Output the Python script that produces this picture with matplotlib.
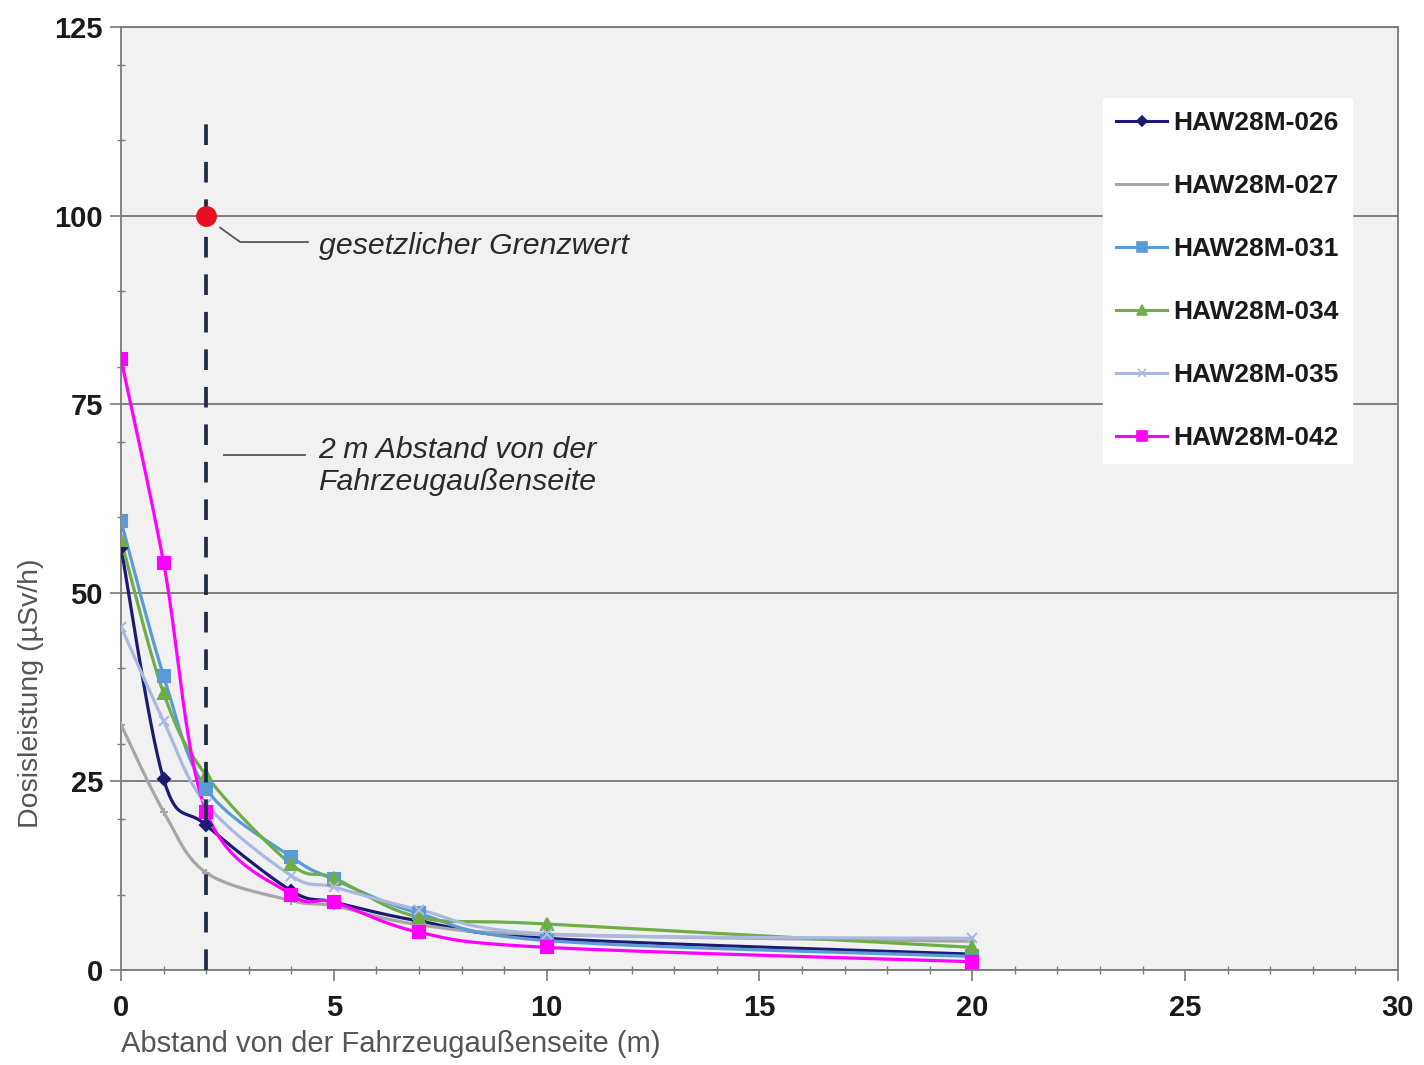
import numpy as np
import matplotlib.pyplot as plt
from matplotlib.ticker import MultipleLocator

# Messpunkte (Abstand in m)
abstand = [0, 1, 2, 4, 5, 7, 10, 20]
namen = ["HAW28M-026", "HAW28M-027", "HAW28M-031", "HAW28M-034", "HAW28M-035", "HAW28M-042"]
d026 = [56, 25.3, 19.2, 10.5, 9.0, 6.5, 4.2, 2.1]
d027 = [32.5, 21, 12.9, 9.2, 8.5, 6.0, 4.7, 3.8]
d031 = [59.5, 39, 24, 15, 12, 7.5, 3.9, 1.8]
d034 = [57, 36.7, 25.8, 14, 12.2, 7.0, 6.1, 3.0]
d035 = [45.5, 33, 22, 12.5, 11, 8.0, 4.8, 4.2]
d042 = [81, 54, 21, 10, 9.0, 5.0, 3.0, 1.1]
grenzwert = 100
abstand_grenze = 2

farben = ["#1c1a73", "#a6a6a6", "#5b9bd5", "#6fad47", "#aab8e2", "#ff00ff"]
marker = ["D", "+", "s", "^", "x", "s"]
msize = [6, 6, 9, 9, 7, 9]


def glatt(x, y, sx=1277 / 30, sy=943 / 125, n=30):
    # Excel-artige Glaettung (Bezier mit 1/6 der Nachbardifferenz)
    p = np.column_stack([np.array(x) * sx, np.array(y) * sy])
    pp = np.vstack([p[0], p, p[-1]])
    t = np.linspace(0, 1, n)[:, None]
    out = []
    for i in range(len(p) - 1):
        p0, p3 = pp[i + 1], pp[i + 2]
        p1 = p0 + (pp[i + 2] - pp[i]) / 6
        p2 = p3 - (pp[i + 3] - pp[i + 1]) / 6
        seg = (1 - t) ** 3 * p0 + 3 * (1 - t) ** 2 * t * p1 + 3 * (1 - t) * t ** 2 * p2 + t ** 3 * p3
        out.append(seg)
    out = np.vstack(out)
    return out[:, 0] / sx, out[:, 1] / sy


plt.rcParams['font.family'] = ['Liberation Sans', 'DejaVu Sans']

fig = plt.figure(figsize=(14.24, 10.65), dpi=100)
ax = fig.add_axes([0.085, 0.0892, 0.8967, 0.8854])
ax.set_facecolor("#f1f1f1")

for d, name, c, m, ms in zip([d026, d027, d031, d034, d035, d042], namen, farben, marker, msize):
    gx, gy = glatt(abstand, d)
    ax.plot(gx, gy, color=c, lw=2.3, zorder=3)
    ax.plot(abstand, d, ls="none", marker=m, ms=ms, color=c, mew=1.5, zorder=4)
    ax.plot([], [], color=c, lw=2.2, marker=m if name != "HAW28M-027" else None,
            ms=ms * 0.8, mew=1.2, label=name)

# 2 m Linie und Grenzwert
ax.plot([abstand_grenze, abstand_grenze], [0, 112.5], ls=(0, (5.5, 4.5)), color="#1f2a44", lw=2.7, zorder=5)
ax.plot(abstand_grenze, grenzwert, "o", color="#e8101e", ms=14, zorder=6)

ax.plot([2.33, 2.8, 4.39], [98.4, 96.5, 96.5], color="#555555", lw=1.3)
ax.text(4.64, 96, "gesetzlicher Grenzwert", fontsize=21.8, style="italic", color="#2a2a2a", va="center")
ax.plot([2.42, 4.32], [68.3, 68.3], color="#555555", lw=1.3)
ax.text(4.64, 66.8, "2 m Abstand von der\nFahrzeugaußenseite", fontsize=21.8, style="italic",
        color="#2a2a2a", va="center", linespacing=1.18)

ax.set_xlim(0, 30)
ax.set_ylim(0, 125)
ax.xaxis.set_major_locator(MultipleLocator(5))
ax.xaxis.set_minor_locator(MultipleLocator(1))
ax.yaxis.set_major_locator(MultipleLocator(25))
ax.yaxis.set_minor_locator(MultipleLocator(10))
ax.grid(axis="y", which="major", color="#6b6b6b", lw=1.2)
ax.set_axisbelow(True)

for s in ax.spines.values():
    s.set_color("#7a7a7a")
    s.set_linewidth(1.3)

ax.tick_params(axis="both", which="major", labelsize=21, colors="#7a7a7a", labelcolor="#1a1a1a",
               direction="out", length=8, width=1.2)
ax.tick_params(axis="both", which="minor", colors="#7a7a7a", direction="inout", length=6, width=1)
ax.tick_params(axis="x", pad=9)
ax.tick_params(axis="y", pad=5)
for lab in ax.get_xticklabels() + ax.get_yticklabels():
    lab.set_fontweight("bold")

ax.set_xlabel("Abstand von der Fahrzeugaußenseite (m)", fontsize=21, color="#555555", loc="left", labelpad=6)
ax.set_ylabel("Dosisleistung (µSv/h)", fontsize=20.5, color="#555555")
ax.yaxis.set_label_coords(-0.06, 0.294)

leg = ax.legend(loc="upper right", bbox_to_anchor=(0.964, 0.925), fontsize=19, frameon=True,
                fancybox=False, edgecolor="white", framealpha=1, labelspacing=1.48,
                handlelength=1.95, handletextpad=0.23, borderpad=0.5, borderaxespad=0)
for t in leg.get_texts():
    t.set_fontweight("bold")
    t.set_color("#1a1a1a")

plt.savefig("out.png", dpi=100)
